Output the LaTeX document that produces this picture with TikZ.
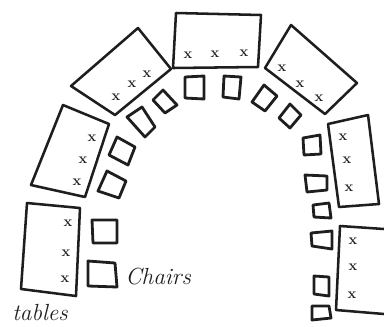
\documentclass[tikz,border=0pt]{standalone}
\usepackage{tikz}
\definecolor{inkblack}{RGB}{30,30,30}
\tikzset{
  tablebox/.style={draw=inkblack, line width=1.9pt, line join=round},
  chairbox/.style={draw=inkblack, line width=2.1pt, line join=round},
  seatmark/.style={text=inkblack, font=\fontsize{11}{11}\selectfont\bfseries, inner sep=0pt},
  handlab/.style={text=inkblack, font=\fontsize{17.5}{18}\selectfont\itshape, inner sep=0pt, anchor=west},
}
\begin{document}
\begin{tikzpicture}[x=0.75pt, y=-0.75pt]
  \useasboundingbox (0,0) rectangle (384,326);
  % tables, from the lower left round to the lower right
  \draw[tablebox] (27,203) -- (80,208) -- (76,296) -- (21,289) -- cycle;
  \draw[tablebox] (63,105) -- (109,124) -- (85,197) -- (31,185) -- cycle;
  \draw[tablebox] (138,28) -- (171,69) -- (115,115) -- (71,86) -- cycle;
  \draw[tablebox] (176,13) -- (261,15) -- (258,67) -- (173,68) -- cycle;
  \draw[tablebox] (291,25) -- (357,83) -- (325,114) -- (265,68) -- cycle;
  \draw[tablebox] (328,124) -- (368,115) -- (379,204) -- (339,207) -- cycle;
  \draw[tablebox] (384,229) -- (340,226) -- (336,310) -- (384,314);
  % chairs
  \draw[chairbox] (92,220) -- (117,220) -- (117,243) -- (93,243) -- cycle;
  \draw[chairbox] (88,261) -- (115,263) -- (117,287) -- (88,286) -- cycle;
  \draw[chairbox] (107,171) -- (126,181) -- (119,198) -- (98,191) -- cycle;
  \draw[chairbox] (117,137) -- (135,147) -- (128,165) -- (109,155) -- cycle;
  \draw[chairbox] (142,107) -- (155,127) -- (145,137) -- (127,117) -- cycle;
  \draw[chairbox] (163,90) -- (177,105) -- (165,113) -- (153,100) -- cycle;
  \draw[chairbox] (185,77) -- (204,76) -- (204,99) -- (185,98) -- cycle;
  \draw[chairbox] (224,76) -- (241,77) -- (239,99) -- (223,97) -- cycle;
  \draw[chairbox] (264,85) -- (277,96) -- (265,111) -- (252,102) -- cycle;
  \draw[chairbox] (290,104) -- (301,115) -- (290,128) -- (279,118) -- cycle;
  \draw[chairbox] (303,138) -- (320,135) -- (321,154) -- (304,155) -- cycle;
  \draw[chairbox] (305,175) -- (327,176) -- (327,190) -- (307,192) -- cycle;
  \draw[chairbox] (313,205) -- (329,203) -- (331,218) -- (314,217) -- cycle;
  \draw[chairbox] (311,233) -- (332,231) -- (332,249) -- (312,246) -- cycle;
  \draw[chairbox] (314,276) -- (329,277) -- (329,296) -- (314,294) -- cycle;
  \draw[chairbox] (312,306) -- (329,306) -- (331,318) -- (312,320) -- cycle;
  % seats marked on the tables
  \foreach \px/\py in {68/223,66/253,65/279,92/138,83/160,77/182,116/97,132/84,147/74,
                       188/55,215/54,244/53,282/68,300/84,319/98,343/137,347/160,349/188,
                       353/241,353/267,352/295}
    \node[seatmark] at (\px,\py) {x};
  \node[handlab] (chairlab) at (125,277) {Chairs};
  \node[handlab] (tablelab) at (12,313) {tables};
\end{tikzpicture}
\end{document}
